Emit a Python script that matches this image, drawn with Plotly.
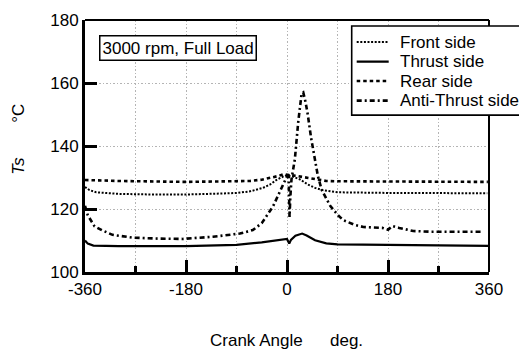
import plotly.graph_objects as go

# ---------------- data ----------------
front_angle = [-360, -352, -340, -300, -240, -180, -120, -90, -66, -43, -30, -19, -8, -1, 10, 23, 37, 50, 64, 91, 180, 270, 357]
front_temp = [127.0, 126.0, 125.3, 124.8, 124.6, 124.6, 124.9, 125.1, 125.6, 126.7, 127.8, 129.2, 130.2, 130.7, 130.3, 129.4, 127.8, 126.7, 126.0, 125.3, 125.1, 125.0, 125.0]

thrust_angle = [-360, -355, -345, -300, -180, -90, -45, -20, -8, 0, 4, 7, 15, 27, 35, 50, 70, 90, 180, 270, 360]
thrust_temp = [110.0, 109.0, 108.4, 108.2, 108.2, 108.6, 109.4, 110.0, 110.4, 110.5, 109.0, 110.2, 111.5, 112.2, 111.6, 110.1, 109.1, 108.8, 108.6, 108.4, 108.3]

rear_angle = [-360, -300, -180, -90, -66, -45, -30, -15, -7, 5, 17, 40, 70, 90, 180, 270, 358]
rear_temp = [129.2, 128.9, 128.6, 128.8, 128.9, 129.3, 129.8, 130.5, 131.0, 130.8, 130.5, 129.8, 128.9, 128.8, 128.7, 128.6, 128.6]

anti_angle = [-360, -355, -343, -329, -311, -275, -230, -186, -132, -96, -84, -61, -45, -25, -10, -1, 3, 4.5, 6, 8, 14, 20, 26, 29, 33, 37, 43, 49, 55, 62, 77, 91, 100, 120, 136, 170, 180, 188, 200, 225, 255, 300, 350]
anti_temp = [121.0, 118.0, 114.5, 113.2, 111.8, 110.9, 110.6, 110.5, 111.2, 111.8, 112.2, 113.3, 115.5, 120.8, 126.5, 130.0, 130.4, 117.5, 124.0, 129.4, 135.8, 147.6, 156.6, 157.0, 154.0, 150.0, 142.5, 136.0, 130.5, 126.0, 121.0, 118.0, 116.5, 115.0, 114.3, 114.0, 113.4, 114.6, 114.0, 113.0, 112.8, 112.8, 112.8]

series_names = ["Front side", "Thrust side", "Rear side", "Anti-Thrust side"]

x_tickvals = [-360, -180, 0, 180, 360]
x_ticktext = ["-360", "-180", "0", "180", "360"]
y_tickvals = [100, 120, 140, 160, 180]
y_ticktext = ["100", "120", "140", "160", "180"]

annotation_text = "3000 rpm, Full Load"

# ---------------- layout helpers ----------------
W, H = 519, 349
L, R, T, B = 85.3, 29.7, 20, 77.3
PW, PH = W - L - R, H - T - B
FONT = "Arial, Liberation Sans, sans-serif"


def px(xp):
    return (xp - L) / PW


def py(yp):
    return (H - B - yp) / PH


styles = [
    dict(color="black", width=2, dash="2px,1.6px"),
    dict(color="black", width=2.2, dash="solid"),
    dict(color="black", width=2.6, dash="3.5px,3px"),
    dict(color="black", width=2.6, dash="5px,3px,2px,3px"),
]

fig = go.Figure()
for xs, ys, name, st in zip(
    [front_angle, thrust_angle, rear_angle, anti_angle],
    [front_temp, thrust_temp, rear_temp, anti_temp],
    series_names,
    styles,
):
    fig.add_trace(go.Scatter(x=xs, y=ys, mode="lines", name=name, line=st, showlegend=False))

GRIDC = "#b4b4b4"
GRIDDASH = "1.5px,2px"

fig.update_xaxes(
    range=[-360, 360], tickvals=x_tickvals, ticktext=x_ticktext,
    ticks="inside", ticklen=12, tickwidth=3, tickcolor="black",
    showline=True, linewidth=3, linecolor="black",
    showgrid=True, gridcolor=GRIDC, gridwidth=1, griddash=GRIDDASH, zeroline=False,
    minor=dict(dtick=90, tick0=0, ticks="inside", ticklen=6, tickwidth=2.5, tickcolor="black",
               showgrid=True, gridcolor=GRIDC, gridwidth=1, griddash=GRIDDASH),
    tickfont=dict(family=FONT, size=17, color="black"),
)
fig.update_yaxes(
    range=[100, 180], tickvals=y_tickvals, ticktext=y_ticktext,
    ticks="inside", ticklen=12, tickwidth=3, tickcolor="black",
    showline=True, linewidth=3, linecolor="black",
    showgrid=True, gridcolor=GRIDC, gridwidth=1, griddash=GRIDDASH, zeroline=False,
    tickfont=dict(family=FONT, size=17, color="black"),
)

shapes = [
    dict(type="line", xref="paper", yref="paper", x0=0, x1=1, y0=1, y1=1, line=dict(color="black", width=2), layer="above"),
    dict(type="line", xref="paper", yref="paper", x0=1, x1=1, y0=0, y1=1, line=dict(color="black", width=2), layer="above"),
    # legend box
    dict(type="rect", xref="paper", yref="paper", x0=px(352), x1=px(530), y0=py(115), y1=py(26),
         line=dict(color="black", width=1.6), fillcolor="white", layer="above"),
]
row_y = [42, 61.5, 81, 100.5]
for yp, st in zip(row_y, styles):
    shapes.append(dict(type="line", xref="paper", yref="paper", x0=px(357), x1=px(389), y0=py(yp), y1=py(yp),
                       line=st, layer="above"))

annotations = [
    dict(text=annotation_text, xref="paper", yref="paper", x=px(178), y=py(47.5), showarrow=False,
         xanchor="center", yanchor="middle", font=dict(family=FONT, size=17, color="black"),
         bgcolor="white", bordercolor="black", borderwidth=1.5, borderpad=2),
    dict(text="<i>Ts</i>", xref="paper", yref="paper", x=px(18), y=py(166), showarrow=False, textangle=-90,
         xanchor="center", yanchor="middle", font=dict(family=FONT, size=17, color="black")),
    dict(text="°C", xref="paper", yref="paper", x=px(18), y=py(113), showarrow=False, textangle=-90,
         xanchor="center", yanchor="middle", font=dict(family=FONT, size=17, color="black")),
    dict(text="Crank Angle", xref="paper", yref="paper", x=px(257), y=py(340), showarrow=False,
         xanchor="center", yanchor="middle", font=dict(family=FONT, size=17, color="black")),
    dict(text="deg.", xref="paper", yref="paper", x=px(347), y=py(340), showarrow=False,
         xanchor="center", yanchor="middle", font=dict(family=FONT, size=17, color="black")),
]
for yp, name in zip(row_y, series_names):
    annotations.append(dict(text=name, xref="paper", yref="paper", x=px(398), y=py(yp), showarrow=False,
                            xanchor="left", yanchor="middle", font=dict(family=FONT, size=17, color="black")))

fig.update_layout(
    width=W, height=H,
    margin=dict(l=L, r=R, t=T, b=B, autoexpand=False),
    paper_bgcolor="white", plot_bgcolor="white",
    showlegend=False,
    shapes=shapes, annotations=annotations,
)

fig.write_html("out.html")
